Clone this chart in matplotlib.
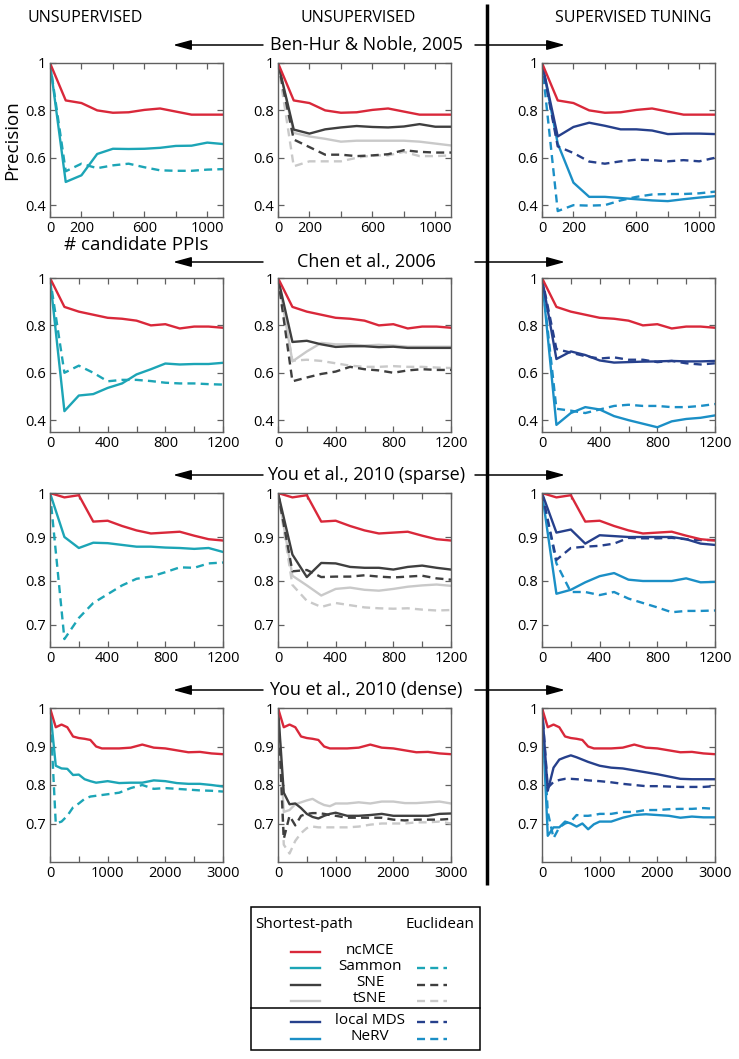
import matplotlib
matplotlib.use("Agg")
import matplotlib.pyplot as plt
from matplotlib.patches import Rectangle

plt.rcParams['font.family'] = ['Open Sans', 'DejaVu Sans']

# ---------------- data (precision vs # candidate PPIs) ----------------
# row 1: Ben-Hur & Noble, 2005
x_r1 = [0, 100, 200, 300, 400, 500, 600, 700, 800, 900, 1000, 1100]
ncmce_r1 = [1.0, 0.842, 0.831, 0.80, 0.79, 0.792, 0.802, 0.808, 0.795, 0.782, 0.782, 0.782]
sammon_sp_r1 = [1.0, 0.498, 0.526, 0.616, 0.638, 0.637, 0.638, 0.642, 0.65, 0.651, 0.664, 0.658]
sammon_eu_r1 = [1.0, 0.543, 0.575, 0.556, 0.568, 0.575, 0.56, 0.547, 0.545, 0.545, 0.55, 0.552]
sne_sp_r1 = [1.0, 0.719, 0.702, 0.72, 0.728, 0.734, 0.73, 0.728, 0.732, 0.742, 0.731, 0.731]
sne_eu_r1 = [1.0, 0.677, 0.645, 0.613, 0.613, 0.607, 0.61, 0.615, 0.632, 0.625, 0.622, 0.622]
tsne_sp_r1 = [1.0, 0.705, 0.69, 0.68, 0.668, 0.672, 0.672, 0.672, 0.672, 0.668, 0.66, 0.652]
tsne_eu_r1 = [1.0, 0.564, 0.585, 0.585, 0.585, 0.60, 0.61, 0.61, 0.625, 0.607, 0.607, 0.61]
lmds_sp_r1 = [1.0, 0.69, 0.73, 0.748, 0.735, 0.72, 0.72, 0.715, 0.70, 0.702, 0.702, 0.70]
lmds_eu_r1 = [1.0, 0.648, 0.62, 0.584, 0.575, 0.585, 0.592, 0.59, 0.585, 0.59, 0.585, 0.60]
nerv_sp_r1 = [1.0, 0.66, 0.495, 0.435, 0.435, 0.43, 0.425, 0.42, 0.417, 0.425, 0.432, 0.438]
nerv_eu_r1 = [1.0, 0.375, 0.40, 0.398, 0.40, 0.42, 0.435, 0.445, 0.447, 0.447, 0.45, 0.457]

# row 2: Chen et al., 2006
x_r2 = [0, 100, 200, 300, 400, 500, 600, 700, 800, 900, 1000, 1100, 1200]
ncmce_r2 = [1.0, 0.878, 0.858, 0.845, 0.832, 0.828, 0.82, 0.80, 0.805, 0.787, 0.795, 0.795, 0.79]
sammon_sp_r2 = [1.0, 0.438, 0.504, 0.51, 0.536, 0.555, 0.593, 0.615, 0.639, 0.635, 0.637, 0.637, 0.642]
sammon_eu_r2 = [1.0, 0.60, 0.63, 0.60, 0.564, 0.57, 0.57, 0.565, 0.558, 0.555, 0.555, 0.552, 0.55]
sne_sp_r2 = [1.0, 0.73, 0.735, 0.72, 0.709, 0.712, 0.712, 0.708, 0.71, 0.705, 0.705, 0.705, 0.705]
sne_eu_r2 = [1.0, 0.564, 0.58, 0.595, 0.605, 0.625, 0.615, 0.61, 0.60, 0.61, 0.615, 0.612, 0.612]
tsne_sp_r2 = [1.0, 0.648, 0.69, 0.726, 0.72, 0.72, 0.715, 0.718, 0.715, 0.71, 0.71, 0.71, 0.71]
tsne_eu_r2 = [1.0, 0.651, 0.655, 0.65, 0.64, 0.63, 0.625, 0.625, 0.628, 0.625, 0.625, 0.622, 0.62]
lmds_sp_r2 = [1.0, 0.658, 0.69, 0.675, 0.652, 0.643, 0.645, 0.647, 0.648, 0.65, 0.648, 0.648, 0.65]
lmds_eu_r2 = [1.0, 0.70, 0.685, 0.67, 0.66, 0.665, 0.655, 0.655, 0.645, 0.65, 0.64, 0.635, 0.64]
nerv_sp_r2 = [1.0, 0.38, 0.43, 0.455, 0.445, 0.417, 0.40, 0.385, 0.37, 0.395, 0.405, 0.41, 0.42]
nerv_eu_r2 = [1.0, 0.448, 0.44, 0.43, 0.445, 0.46, 0.465, 0.46, 0.46, 0.455, 0.455, 0.46, 0.468]

# row 3: You et al., 2010 (sparse)
x_r3 = [0, 100, 200, 300, 400, 500, 600, 700, 800, 900, 1000, 1100, 1200]
ncmce_r3 = [1.0, 0.99, 0.995, 0.935, 0.937, 0.925, 0.915, 0.908, 0.91, 0.912, 0.903, 0.895, 0.892]
sammon_sp_r3 = [1.0, 0.90, 0.875, 0.887, 0.886, 0.882, 0.878, 0.878, 0.876, 0.875, 0.873, 0.875, 0.866]
sammon_eu_r3 = [1.0, 0.668, 0.716, 0.75, 0.77, 0.79, 0.805, 0.81, 0.82, 0.831, 0.83, 0.84, 0.842]
sne_sp_r3 = [1.0, 0.86, 0.809, 0.841, 0.84, 0.832, 0.83, 0.83, 0.826, 0.832, 0.835, 0.83, 0.826]
sne_eu_r3 = [1.0, 0.822, 0.825, 0.809, 0.81, 0.81, 0.813, 0.81, 0.808, 0.81, 0.812, 0.806, 0.803]
tsne_sp_r3 = [1.0, 0.812, 0.79, 0.767, 0.782, 0.785, 0.78, 0.778, 0.782, 0.787, 0.79, 0.792, 0.789]
tsne_eu_r3 = [1.0, 0.791, 0.755, 0.741, 0.75, 0.745, 0.74, 0.738, 0.737, 0.738, 0.735, 0.733, 0.734]
lmds_sp_r3 = [1.0, 0.91, 0.917, 0.885, 0.904, 0.902, 0.90, 0.90, 0.90, 0.90, 0.895, 0.885, 0.882]
lmds_eu_r3 = [1.0, 0.848, 0.875, 0.878, 0.88, 0.885, 0.898, 0.897, 0.897, 0.898, 0.895, 0.893, 0.893]
nerv_sp_r3 = [1.0, 0.771, 0.78, 0.797, 0.811, 0.818, 0.803, 0.80, 0.80, 0.80, 0.806, 0.797, 0.798]
nerv_eu_r3 = [1.0, 0.84, 0.775, 0.775, 0.768, 0.775, 0.76, 0.75, 0.74, 0.729, 0.732, 0.732, 0.733]

# row 4: You et al., 2010 (dense)
x_r4 = [0, 100, 200, 300, 400, 500, 600, 700, 800, 900, 1000,
        1200, 1400, 1600, 1800, 2000, 2200, 2400, 2600, 2800, 3000]
ncmce_r4 = [1.0, 0.95, 0.957, 0.95, 0.926, 0.922, 0.92, 0.917, 0.90, 0.895, 0.895,
            0.895, 0.897, 0.905, 0.897, 0.895, 0.89, 0.885, 0.886, 0.882, 0.88]
sammon_sp_r4 = [1.0, 0.85, 0.843, 0.842, 0.826, 0.827, 0.815, 0.81, 0.806, 0.808, 0.81,
                0.805, 0.806, 0.806, 0.812, 0.81, 0.805, 0.803, 0.803, 0.80, 0.796]
sammon_eu_r4 = [1.0, 0.70, 0.705, 0.72, 0.742, 0.752, 0.764, 0.77, 0.772, 0.774, 0.776,
                0.78, 0.792, 0.80, 0.79, 0.792, 0.79, 0.788, 0.786, 0.785, 0.783]
sne_sp_r4 = [1.0, 0.78, 0.75, 0.752, 0.74, 0.725, 0.717, 0.713, 0.72, 0.725, 0.728,
             0.72, 0.72, 0.722, 0.725, 0.72, 0.72, 0.72, 0.72, 0.725, 0.726]
sne_eu_r4 = [1.0, 0.66, 0.72, 0.695, 0.72, 0.725, 0.727, 0.727, 0.725, 0.722, 0.72,
             0.715, 0.715, 0.715, 0.715, 0.71, 0.708, 0.71, 0.71, 0.71, 0.712]
tsne_sp_r4 = [1.0, 0.73, 0.735, 0.75, 0.755, 0.76, 0.764, 0.755, 0.748, 0.745, 0.752,
              0.752, 0.755, 0.752, 0.757, 0.757, 0.753, 0.753, 0.755, 0.757, 0.752]
tsne_eu_r4 = [1.0, 0.645, 0.622, 0.655, 0.675, 0.688, 0.692, 0.69, 0.69, 0.69, 0.69,
              0.69, 0.692, 0.697, 0.70, 0.70, 0.70, 0.703, 0.703, 0.705, 0.70]
lmds_sp_r4 = [1.0, 0.785, 0.845, 0.866, 0.872, 0.877, 0.872, 0.866, 0.86, 0.855, 0.85,
              0.845, 0.843, 0.838, 0.833, 0.828, 0.822, 0.816, 0.815, 0.815, 0.815]
lmds_eu_r4 = [1.0, 0.793, 0.808, 0.813, 0.816, 0.816, 0.815, 0.814, 0.812, 0.811, 0.81,
              0.807, 0.803, 0.80, 0.797, 0.797, 0.796, 0.795, 0.795, 0.795, 0.797]
nerv_sp_r4 = [1.0, 0.668, 0.69, 0.69, 0.705, 0.70, 0.692, 0.70, 0.685, 0.698, 0.705,
              0.705, 0.715, 0.722, 0.724, 0.722, 0.72, 0.715, 0.718, 0.716, 0.716]
nerv_eu_r4 = [1.0, 0.73, 0.662, 0.69, 0.70, 0.705, 0.722, 0.72, 0.72, 0.722, 0.725,
              0.725, 0.73, 0.73, 0.735, 0.735, 0.737, 0.738, 0.738, 0.74, 0.738]

row_titles = ['Ben-Hur & Noble, 2005', 'Chen et al., 2006',
              'You et al., 2010 (sparse)', 'You et al., 2010 (dense)']
col_titles = ['UNSUPERVISED', 'UNSUPERVISED', 'SUPERVISED TUNING']
methods = ['ncMCE', 'Sammon', 'SNE', 'tSNE', 'local MDS', 'NeRV']

# colours
c_red = '#d9283a'
c_sammon = '#1ca5b6'
c_sne = '#3f3f3f'
c_tsne = '#c9c9c9'
c_lmds = '#26408c'
c_nerv = '#1b8fc6'
dash = (0, (3.4, 2.2))

rows = [
    dict(x=x_r1, nc=ncmce_r1, sam=(sammon_sp_r1, sammon_eu_r1), sne=(sne_sp_r1, sne_eu_r1),
         tsne=(tsne_sp_r1, tsne_eu_r1), lmds=(lmds_sp_r1, lmds_eu_r1), nerv=(nerv_sp_r1, nerv_eu_r1),
         xlim=1100, ylim=(0.35, 1.0), xt=[0, 200, 400, 600, 800, 1000],
         xl=['0', '200', '', '600', '', '1000'], yt=[0.4, 0.6, 0.8, 1.0], yl=['0.4', '0.6', '0.8', '1']),
    dict(x=x_r2, nc=ncmce_r2, sam=(sammon_sp_r2, sammon_eu_r2), sne=(sne_sp_r2, sne_eu_r2),
         tsne=(tsne_sp_r2, tsne_eu_r2), lmds=(lmds_sp_r2, lmds_eu_r2), nerv=(nerv_sp_r2, nerv_eu_r2),
         xlim=1200, ylim=(0.35, 1.0), xt=[0, 200, 400, 600, 800, 1000, 1200],
         xl=['0', '', '400', '', '800', '', '1200'], yt=[0.4, 0.6, 0.8, 1.0], yl=['0.4', '0.6', '0.8', '1']),
    dict(x=x_r3, nc=ncmce_r3, sam=(sammon_sp_r3, sammon_eu_r3), sne=(sne_sp_r3, sne_eu_r3),
         tsne=(tsne_sp_r3, tsne_eu_r3), lmds=(lmds_sp_r3, lmds_eu_r3), nerv=(nerv_sp_r3, nerv_eu_r3),
         xlim=1200, ylim=(0.65, 1.0), xt=[0, 200, 400, 600, 800, 1000, 1200],
         xl=['0', '', '400', '', '800', '', '1200'], yt=[0.7, 0.8, 0.9, 1.0], yl=['0.7', '0.8', '0.9', '1']),
    dict(x=x_r4, nc=ncmce_r4, sam=(sammon_sp_r4, sammon_eu_r4), sne=(sne_sp_r4, sne_eu_r4),
         tsne=(tsne_sp_r4, tsne_eu_r4), lmds=(lmds_sp_r4, lmds_eu_r4), nerv=(nerv_sp_r4, nerv_eu_r4),
         xlim=3000, ylim=(0.6, 1.0), xt=[0, 500, 1000, 1500, 2000, 2500, 3000],
         xl=['0', '', '1000', '', '2000', '', '3000'], yt=[0.7, 0.8, 0.9, 1.0], yl=['0.7', '0.8', '0.9', '1']),
]

W, H = 739, 1059
fig = plt.figure(figsize=(W / 100, H / 100), dpi=100)

# overlay in pixel coordinates for headers, arrows, divider and legend
ov = fig.add_axes([0, 0, 1, 1])
ov.set_xlim(0, W)
ov.set_ylim(H, 0)
ov.axis('off')

col_left = [50, 278, 542]
row_top = [63, 278, 493, 708]
aw, ah = 173, 154
lw = 1.7
spine_c = '#606060'

for r, d in enumerate(rows):
    for c in range(3):
        ax = fig.add_axes([col_left[c] / W, 1 - (row_top[r] + ah) / H, aw / W, ah / H])
        x = d['x']
        if c == 0:
            ax.plot(x, d['sam'][1], color=c_sammon, lw=lw, ls=dash)
            ax.plot(x, d['sam'][0], color=c_sammon, lw=lw)
        elif c == 1:
            ax.plot(x, d['tsne'][1], color=c_tsne, lw=lw, ls=dash)
            ax.plot(x, d['tsne'][0], color=c_tsne, lw=lw)
            ax.plot(x, d['sne'][1], color=c_sne, lw=lw, ls=dash)
            ax.plot(x, d['sne'][0], color=c_sne, lw=lw)
        else:
            ax.plot(x, d['nerv'][1], color=c_nerv, lw=lw, ls=dash)
            ax.plot(x, d['nerv'][0], color=c_nerv, lw=lw)
            ax.plot(x, d['lmds'][1], color=c_lmds, lw=lw, ls=dash)
            ax.plot(x, d['lmds'][0], color=c_lmds, lw=lw)
        ax.plot(x, d['nc'], color=c_red, lw=lw)
        ax.set_xlim(0, d['xlim'])
        ax.set_ylim(*d['ylim'])
        ax.set_xticks(d['xt'], d['xl'])
        ax.set_yticks(d['yt'], d['yl'])
        ax.tick_params(direction='in', top=True, right=True, length=4, width=0.9,
                       color=spine_c, labelsize=10.5, pad=3)
        for s in ax.spines.values():
            s.set_color(spine_c)
            s.set_linewidth(1.0)
        if r == 0 and c == 0:
            ax.set_ylabel('Precision', fontsize=13.5, labelpad=3)
            ax.set_xlabel('# candidate PPIs', fontsize=13.5, labelpad=0)

# column headers
for cx, t in zip([85, 358, 633], col_titles):
    ov.text(cx, 18, t, ha='center', va='center', fontsize=11.5)

# row titles with arrows
for ty, t in zip([45, 262, 475, 690], row_titles):
    ov.text(366, ty, t, ha='center', va='center', fontsize=13)
    for x0, x1 in [(263, 173), (475, 565)]:
        ov.annotate('', xy=(x1, ty), xytext=(x0, ty),
                    arrowprops=dict(arrowstyle='-|>,head_length=1.1,head_width=0.3',
                                    color='k', lw=1.1, mutation_scale=10, shrinkA=0, shrinkB=0))

# vertical divider
ov.plot([487, 487], [4, 885], color='k', lw=2.5, solid_capstyle='butt')

# legend box
ov.add_patch(Rectangle((251, 907), 229, 143, fill=False, ec='k', lw=1.1))
ov.plot([251, 480], [1008, 1008], color='k', lw=1.1)
ov.text(255, 925, 'Shortest-path', ha='left', va='center', fontsize=11)
ov.text(474, 925, 'Euclidean', ha='right', va='center', fontsize=11)
leg_y = [950, 966, 983, 999, 1020, 1037]
leg_c = [c_red, c_sammon, c_sne, c_tsne, c_lmds, c_nerv]
for yy, m, cc in zip(leg_y, methods, leg_c):
    ov.plot([291, 320], [yy + 2, yy + 2], color=cc, lw=lw)
    if m != 'ncMCE':
        ov.plot([417, 447], [yy + 2, yy + 2], color=cc, lw=lw, ls=dash)
    ov.text(370, yy, m, ha='center', va='center', fontsize=11)

fig.savefig('out.png', dpi=100)
